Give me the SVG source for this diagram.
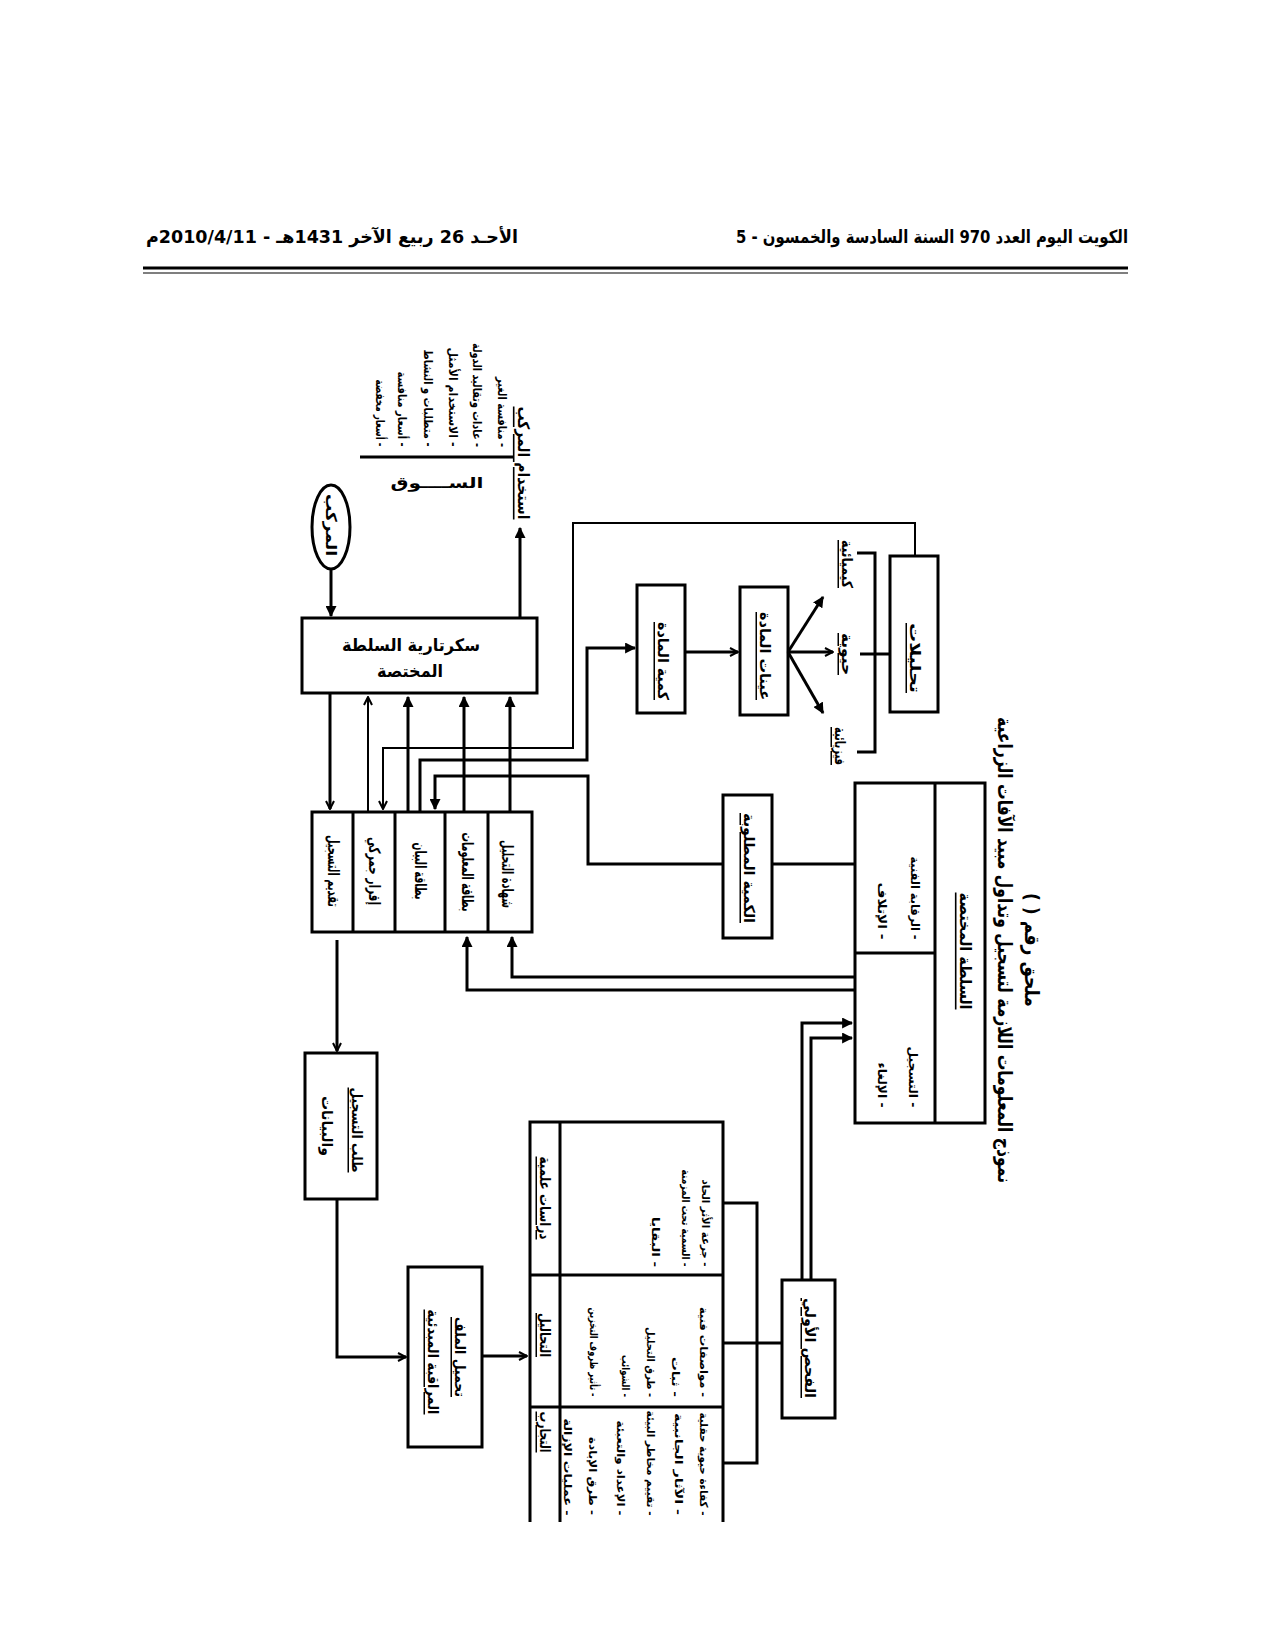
<svg xmlns="http://www.w3.org/2000/svg" width="1275" height="1650" viewBox="0 0 1275 1650">
<defs>
<style>
text{font-family:"DejaVu Sans","Noto Sans",sans-serif;font-weight:bold;fill:#000;direction:rtl}
.r{text-anchor:middle;dominant-baseline:central}
.u{text-decoration:underline}
.box{fill:#fff;stroke:#000;stroke-width:3}
.ln{fill:none;stroke:#000;stroke-width:3}
.th{fill:none;stroke:#000;stroke-width:2}
.s16{font-size:16px}.s15{font-size:15px}.s12{font-size:12px}.s11{font-size:11px}.s20{font-size:20px}
</style>
<marker id="ah" viewBox="0 0 10 10" refX="9" refY="5" markerWidth="11" markerHeight="11" markerUnits="userSpaceOnUse" orient="auto"><path d="M0,0 L10,5 L0,10 z" fill="#000"/></marker>
<marker id="ao" viewBox="0 0 10 10" refX="9" refY="5" markerWidth="10" markerHeight="10" markerUnits="userSpaceOnUse" orient="auto"><path d="M1,1 L9,5 L1,9" fill="none" stroke="#000" stroke-width="2"/></marker>
</defs>
<rect width="1275" height="1650" fill="#fff"/>

<g id="header">
<text x="932" y="243" text-anchor="middle" font-size="18" textLength="392" lengthAdjust="spacingAndGlyphs">الكويت اليوم العدد 970 السنة السادسة والخمسون - 5</text>
<text x="332" y="243" text-anchor="middle" font-size="18" textLength="372" lengthAdjust="spacingAndGlyphs">الأحـد 26 ربيع الآخر 1431هـ - 2010/4/11م</text>
<line x1="143" y1="268" x2="1128" y2="268" stroke="#000" stroke-width="3"/>
<line x1="143" y1="273" x2="1128" y2="273" stroke="#000" stroke-width="1.2"/>
</g>

<g id="title">
<text class="r s20" transform="translate(1005,950) rotate(90)" textLength="466" lengthAdjust="spacingAndGlyphs">نموذج المعلومات اللازمة لتسجيل وتداول مبيد الآفات الزراعية</text>
<text class="r s20" transform="translate(1032,950) rotate(90)" textLength="114" lengthAdjust="spacingAndGlyphs">ملحق رقم (   )</text>
</g>

<g id="market">
<line x1="360" y1="457" x2="513" y2="457" stroke="#000" stroke-width="3"/>
<text x="437" y="488" text-anchor="middle" font-size="15" textLength="93" lengthAdjust="spacingAndGlyphs">الســــوق</text>
<text class="r s16 u" transform="translate(523,463) rotate(90)" textLength="113" lengthAdjust="spacingAndGlyphs">استخدام المركب</text>
<text class="r s12" transform="translate(502,412) rotate(90)" textLength="70" lengthAdjust="spacingAndGlyphs">- منافسة الغير</text>
<text class="r s12" transform="translate(477,395) rotate(90)" textLength="104" lengthAdjust="spacingAndGlyphs">- عادات وتقاليد الدولة</text>
<text class="r s12" transform="translate(453,397) rotate(90)" textLength="99" lengthAdjust="spacingAndGlyphs">- الاستخدام الأمثل</text>
<text class="r s12" transform="translate(428,398) rotate(90)" textLength="97" lengthAdjust="spacingAndGlyphs">- متطلبات و النشاط</text>
<text class="r s12" transform="translate(402,409) rotate(90)" textLength="75" lengthAdjust="spacingAndGlyphs">- أسعار منافسة</text>
<text class="r s12" transform="translate(380,413) rotate(90)" textLength="67" lengthAdjust="spacingAndGlyphs">- أسعار مخفضة</text>
</g>

<g id="compound">
<ellipse cx="331" cy="527" rx="19" ry="42" fill="#fff" stroke="#000" stroke-width="3"/>
<text class="r s15" transform="translate(331,525) rotate(90)" textLength="62" lengthAdjust="spacingAndGlyphs">المركب</text>
</g>

<g id="secretariat">
<rect class="box" x="302" y="618" width="235" height="75"/>
<text x="411" y="651" text-anchor="middle" font-size="17" textLength="138" lengthAdjust="spacingAndGlyphs">سكرتارية السلطة</text>
<text x="410" y="677" text-anchor="middle" font-size="17" textLength="66" lengthAdjust="spacingAndGlyphs">المختصة</text>
</g>

<g id="documents">
<rect class="box" x="312" y="812" width="220" height="120"/>
<line x1="353" y1="812" x2="353" y2="932" stroke="#000" stroke-width="3"/>
<line x1="395" y1="812" x2="395" y2="932" stroke="#000" stroke-width="3"/>
<line x1="445" y1="812" x2="445" y2="932" stroke="#000" stroke-width="3"/>
<line x1="488" y1="812" x2="488" y2="932" stroke="#000" stroke-width="3"/>
<text class="r s16" transform="translate(333,871) rotate(90)" textLength="72" lengthAdjust="spacingAndGlyphs">تقديم التسجيل</text>
<text class="r s16" transform="translate(374,871) rotate(90)" textLength="68" lengthAdjust="spacingAndGlyphs">إقرار جمركي</text>
<text class="r s16" transform="translate(420,871) rotate(90)" textLength="57" lengthAdjust="spacingAndGlyphs">بطاقة البيان</text>
<text class="r s16" transform="translate(467,872) rotate(90)" textLength="79" lengthAdjust="spacingAndGlyphs">بطاقة المعلومات</text>
<text class="r s16" transform="translate(507,874) rotate(90)" textLength="68" lengthAdjust="spacingAndGlyphs">شهادة التحليل</text>
</g>

<g id="quantity">
<rect class="box" x="637" y="585" width="48" height="128"/>
<text class="r s15 u" transform="translate(663,661) rotate(90)" textLength="78" lengthAdjust="spacingAndGlyphs">كمية المادة</text>
</g>

<g id="samples">
<rect class="box" x="740" y="587" width="48" height="128"/>
<text class="r s15 u" transform="translate(765,656) rotate(90)" textLength="88" lengthAdjust="spacingAndGlyphs">عينات المادة</text>
</g>

<g id="analysis-types">
<text class="r s15 u" transform="translate(847,564) rotate(90)" textLength="48" lengthAdjust="spacingAndGlyphs">كيميائية</text>
<text class="r s15 u" transform="translate(847,654) rotate(90)" textLength="42" lengthAdjust="spacingAndGlyphs">حيوية</text>
<text class="r s15 u" transform="translate(840,746) rotate(90)" textLength="38" lengthAdjust="spacingAndGlyphs">فيزيائية</text>
</g>

<g id="analyses">
<rect class="box" x="890" y="556" width="48" height="156"/>
<text class="r s15 u" transform="translate(915,658) rotate(90)" textLength="70" lengthAdjust="spacingAndGlyphs">تحليلات</text>
</g>

<g id="required-quantity">
<rect class="box" x="723" y="795" width="49" height="143"/>
<text class="r s15 u" transform="translate(749,868) rotate(90)" textLength="110" lengthAdjust="spacingAndGlyphs">الكمية المطلوبة</text>
</g>

<g id="authority">
<rect class="box" x="855" y="783" width="130" height="340"/>
<line x1="935" y1="783" x2="935" y2="1123" stroke="#000" stroke-width="3"/>
<line x1="855" y1="953" x2="935" y2="953" stroke="#000" stroke-width="3"/>
<text class="r s16 u" transform="translate(965,951) rotate(90)" textLength="117" lengthAdjust="spacingAndGlyphs">السلطة المختصة</text>
<text class="r s12" transform="translate(915,898) rotate(90)" textLength="83" lengthAdjust="spacingAndGlyphs">- الرقابة الفنية</text>
<text class="r s12" transform="translate(882,911) rotate(90)" textLength="57" lengthAdjust="spacingAndGlyphs">- الإتلاف</text>
<text class="r s12" transform="translate(913,1077) rotate(90)" textLength="61" lengthAdjust="spacingAndGlyphs">- التسجيل</text>
<text class="r s12" transform="translate(882,1085) rotate(90)" textLength="45" lengthAdjust="spacingAndGlyphs">- الإلغاء</text>
</g>

<g id="request">
<rect class="box" x="305" y="1053" width="72" height="146"/>
<text class="r s15 u" transform="translate(357,1130) rotate(90)" textLength="85" lengthAdjust="spacingAndGlyphs">طلب التسجيل</text>
<text class="r s15" transform="translate(327,1126) rotate(90)" textLength="60" lengthAdjust="spacingAndGlyphs">والبيانات</text>
</g>

<g id="file-check">
<rect class="box" x="408" y="1267" width="74" height="180"/>
<text class="r s15 u" transform="translate(460,1357) rotate(90)" textLength="80" lengthAdjust="spacingAndGlyphs">تحميل الملف</text>
<text class="r s15 u" transform="translate(433,1362) rotate(90)" textLength="105" lengthAdjust="spacingAndGlyphs">المراقبة المبدئية</text>
</g>

<g id="studies-table">
<path d="M530,1522 V1122 H723 V1522" fill="#fff" stroke="#000" stroke-width="3"/>
<line x1="560" y1="1122" x2="560" y2="1522" stroke="#000" stroke-width="3"/>
<line x1="530" y1="1275" x2="723" y2="1275" stroke="#000" stroke-width="3"/>
<line x1="530" y1="1407" x2="723" y2="1407" stroke="#000" stroke-width="3"/>
<text class="r s15 u" transform="translate(545,1198) rotate(90)" textLength="83" lengthAdjust="spacingAndGlyphs">دراسات علمية</text>
<text class="r s15 u" transform="translate(545,1335) rotate(90)" textLength="44" lengthAdjust="spacingAndGlyphs">التحاليل</text>
<text class="r s15 u" transform="translate(545,1432) rotate(90)" textLength="41" lengthAdjust="spacingAndGlyphs">التجارب</text>
<text class="r s11" transform="translate(705,1223) rotate(90)" textLength="87" lengthAdjust="spacingAndGlyphs">- جرعة الأثر الحاد</text>
<text class="r s11" transform="translate(685,1218) rotate(90)" textLength="97" lengthAdjust="spacingAndGlyphs">- السمية تحت المزمنة</text>
<text class="r s11" transform="translate(655,1242) rotate(90)" textLength="50" lengthAdjust="spacingAndGlyphs">- البقايا</text>
<text class="r s11" transform="translate(703,1352) rotate(90)" textLength="90" lengthAdjust="spacingAndGlyphs">- مواصفات فنية</text>
<text class="r s11" transform="translate(675,1377) rotate(90)" textLength="40" lengthAdjust="spacingAndGlyphs">- ثبات</text>
<text class="r s11" transform="translate(650,1362) rotate(90)" textLength="70" lengthAdjust="spacingAndGlyphs">- طرق التحليل</text>
<text class="r s11" transform="translate(625,1376) rotate(90)" textLength="42" lengthAdjust="spacingAndGlyphs">- الشوائب</text>
<text class="r s11" transform="translate(593,1352) rotate(90)" textLength="89" lengthAdjust="spacingAndGlyphs">- تأثير ظروف التخزين</text>
<text class="r s11" transform="translate(703,1464) rotate(90)" textLength="103" lengthAdjust="spacingAndGlyphs">- كفاءة حيوية حقلية</text>
<text class="r s11" transform="translate(678,1464) rotate(90)" textLength="102" lengthAdjust="spacingAndGlyphs">- الآثار الجانبية</text>
<text class="r s11" transform="translate(650,1463) rotate(90)" textLength="105" lengthAdjust="spacingAndGlyphs">- تقييم مخاطر البيئة</text>
<text class="r s11" transform="translate(620,1468) rotate(90)" textLength="95" lengthAdjust="spacingAndGlyphs">- الإعداد والتعبئة</text>
<text class="r s11" transform="translate(592,1476) rotate(90)" textLength="78" lengthAdjust="spacingAndGlyphs">- طرق الإبادة</text>
<text class="r s11" transform="translate(567,1467) rotate(90)" textLength="97" lengthAdjust="spacingAndGlyphs">- عمليات الإزالة</text>
</g>

<g id="initial-exam">
<rect class="box" x="782" y="1280" width="53" height="138"/>
<text class="r s15 u" transform="translate(810,1348) rotate(90)" textLength="100" lengthAdjust="spacingAndGlyphs">الفحص الأولي</text>
</g>

<g id="connectors">
<path class="ln" d="M331,570 V616" marker-end="url(#ah)"/>
<path class="ln" d="M520,618 V528" marker-end="url(#ah)"/>
<path class="ln" d="M330,693 V809" marker-end="url(#ao)"/>
<path class="th" d="M368,812 V697" marker-end="url(#ao)"/>
<path class="ln" d="M408,812 V697" marker-end="url(#ah)"/>
<path class="ln" d="M464,812 V697" marker-end="url(#ah)"/>
<path class="ln" d="M510,812 V697" marker-end="url(#ah)"/>
<path class="th" d="M915,556 V523 H573 V748 H383 V809" marker-end="url(#ao)"/>
<path class="ln" d="M420,812 V760 H587 V648 H635" marker-end="url(#ah)"/>
<path class="ln" d="M855,864 H772"/>
<path class="ln" d="M723,864 H588 V776 H435 V809" marker-end="url(#ah)"/>
<path class="ln" d="M855,977 H512 V937" marker-end="url(#ah)"/>
<path class="ln" d="M855,990 H467 V937" marker-end="url(#ah)"/>
<path class="ln" d="M337,940 V1051" marker-end="url(#ao)"/>
<path class="ln" d="M337,1199 V1357 H406" marker-end="url(#ao)"/>
<path class="ln" d="M482,1356 H527" marker-end="url(#ao)"/>
<path class="ln" d="M723,1203 H757 V1463 H723"/>
<path class="ln" d="M723,1343 H782"/>
<path class="ln" d="M802,1280 V1023 H852" marker-end="url(#ah)"/>
<path class="ln" d="M811,1280 V1038 H852" marker-end="url(#ah)"/>
<path class="ln" d="M685,652 H738" marker-end="url(#ao)"/>
<path class="ln" d="M788,652 L823,597" marker-end="url(#ah)"/>
<path class="ln" d="M788,652 H833" marker-end="url(#ao)"/>
<path class="ln" d="M788,652 L823,713" marker-end="url(#ah)"/>
<path class="ln" d="M857,553 H875 V752 H857"/>
<path class="ln" d="M860,654 H890"/>
</g>
</svg>
